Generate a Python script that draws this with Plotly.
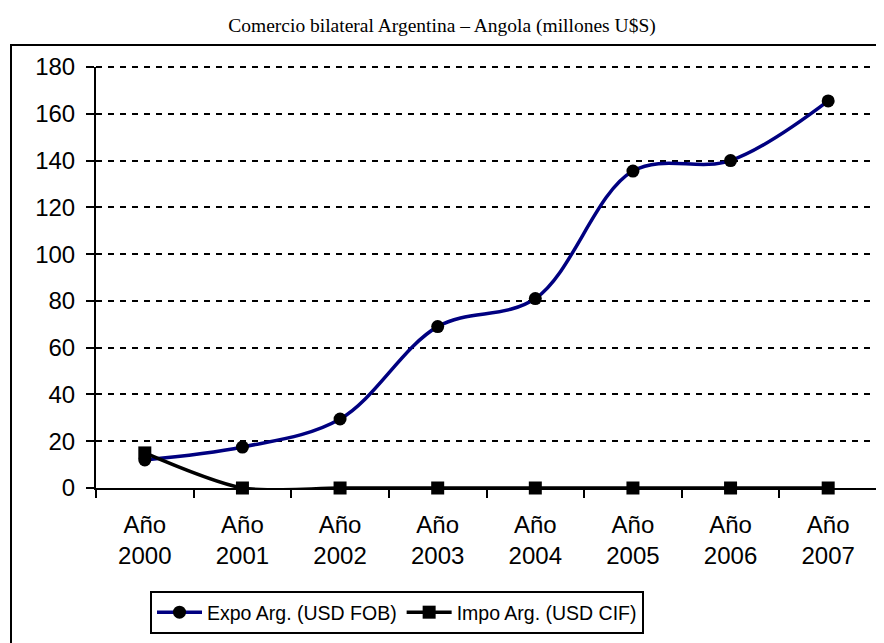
import plotly.graph_objects as go

years = ["2000", "2001", "2002", "2003", "2004", "2005", "2006", "2007"]
tick_labels = ["Año<br>" + y for y in years]
expo = [12, 17.5, 29.5, 69, 81, 135.5, 140, 165.5]
impo = [15, 0, 0, 0, 0, 0, 0, 0]
y_ticks = [0, 20, 40, 60, 80, 100, 120, 140, 160, 180]

OFF = 8  # default page body margin
W, H = 884 - OFF, 643 - OFF
L, R, T, B = 96 - OFF, 7, 67 - OFF, 155
pw, ph = W - L - R, H - T - B

def px_x(sx):
    return (sx - OFF - L) / pw

def px_y(sy):
    return (H - B - (sy - OFF)) / ph

fig = go.Figure()
fig.add_trace(go.Scatter(
    x=years, y=expo, name="Expo Arg. (USD FOB)", mode="lines+markers",
    line=dict(color="#000080", width=3.5, shape="spline", smoothing=1),
    marker=dict(symbol="circle", size=13, color="black"),
    cliponaxis=False,
))
fig.add_trace(go.Scatter(
    x=years, y=impo, name="Impo Arg. (USD CIF)", mode="lines+markers",
    line=dict(color="black", width=3.5, shape="spline", smoothing=0.8),
    marker=dict(symbol="square", size=13, color="black"),
    cliponaxis=False,
))

tickfont = dict(family="Liberation Sans, Arial", size=24, color="black")

fig.update_layout(
    width=W, height=H,
    margin=dict(l=L, r=R, t=T, b=B),
    paper_bgcolor="white", plot_bgcolor="white",
    title=dict(text="Comercio bilateral Argentina – Angola (millones U$S)",
               x=(442 - OFF) / W, xanchor="center", y=1 - (25 - OFF) / H, yanchor="middle",
               font=dict(family="Liberation Serif, Times New Roman", size=19.5, color="black")),
    xaxis=dict(type="category", categoryorder="array", categoryarray=years,
               range=[-0.5, 7.5], tickmode="array", tickvals=years, ticktext=tick_labels,
               tickfont=tickfont, showgrid=False, zeroline=False,
               showline=True, linecolor="black", linewidth=2,
               ticks="outside", tickson="boundaries", ticklen=8, tickwidth=2, tickcolor="black",
               ticklabelstandoff=14),
    yaxis=dict(range=[0, 180], tickmode="array", tickvals=y_ticks,
               tickfont=tickfont, showgrid=True, gridcolor="black", gridwidth=2,
               griddash="6px,6px", zeroline=False,
               showline=True, linecolor="black", linewidth=2,
               ticks="outside", ticklen=8, tickwidth=2, tickcolor="black",
               ticklabelstandoff=6),
    legend=dict(orientation="h", x=px_x(397), xanchor="center",
                y=px_y(591), yanchor="top",
                bordercolor="black", borderwidth=2, bgcolor="white",
                font=dict(family="Liberation Sans, Arial", size=19.5, color="black"),
                itemwidth=45, tracegroupgap=0),
    shapes=[
        dict(type="line", xref="paper", yref="paper", x0=1, x1=1, y0=0, y1=1,
             line=dict(color="black", width=2)),
        dict(type="line", xref="paper", yref="paper", x0=0, x1=1, y0=1, y1=1,
             line=dict(color="black", width=2, dash="6px,6px")),
        dict(type="rect", xref="paper", yref="paper",
             x0=px_x(11), x1=px_x(884 + 5), y0=px_y(643 + 5), y1=px_y(45),
             line=dict(color="black", width=2), layer="below"),
    ],
    showlegend=True,
)

fig.write_html("out.html")
